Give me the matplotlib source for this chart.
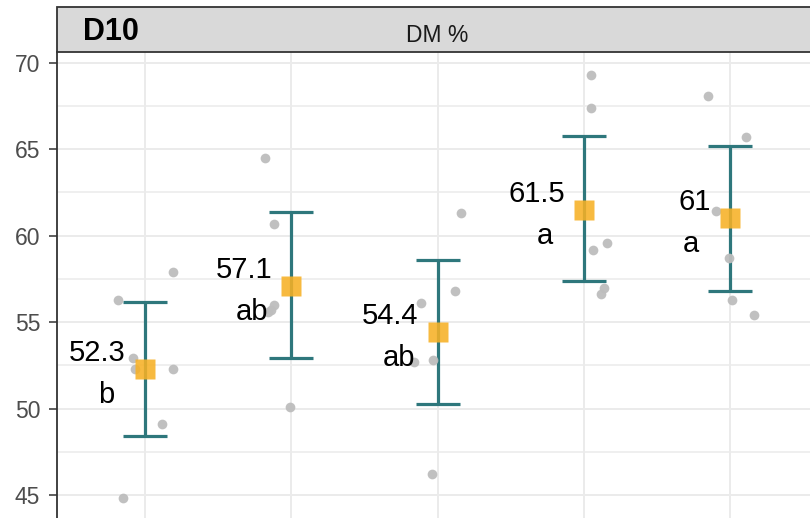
import matplotlib
matplotlib.use("Agg")
import matplotlib.pyplot as plt
from matplotlib.patches import Rectangle
from matplotlib.lines import Line2D
import numpy as np

plt.rcParams['font.family'] = ['Liberation Sans', 'DejaVu Sans']

# ---- data ----
groups = [1, 2, 3, 4, 5]
means = [52.3, 57.1, 54.4, 61.5, 61.0]
mean_labels = ["52.3", "57.1", "54.4", "61.5", "61"]
letters = ["b", "ab", "ab", "a", "a"]
err_low = [48.4, 52.9, 50.25, 57.4, 56.8]
err_high = [56.15, 61.35, 58.6, 65.75, 65.2]

obs_values = [
    [56.3, 57.9, 52.9, 52.3, 52.3, 49.1, 44.8],
    [64.5, 60.7, 56.0, 55.7, 55.6, 50.1],
    [61.3, 56.1, 56.8, 52.8, 52.7, 46.2],
    [69.3, 67.4, 59.55, 59.15, 57.0, 56.6],
    [68.1, 65.7, 61.4, 58.7, 56.3, 55.4],
]
obs_jitter = [
    [-0.185, 0.19, -0.08, -0.07, 0.19, 0.12, -0.15],
    [-0.18, -0.12, -0.12, -0.14, -0.16, -0.01],
    [0.16, -0.11, 0.12, -0.03, -0.16, -0.04],
    [0.05, 0.05, 0.16, 0.06, 0.14, 0.12],
    [-0.15, 0.11, -0.10, -0.01, 0.01, 0.16],
]
yticks = [45, 50, 55, 60, 65, 70]
strip_title = "DM %"
panel_tag = "D10"

# ---- figure ----
W, H = 810, 518
fig = plt.figure(figsize=(W / 100, H / 100), dpi=100)
left_px, right_px, top_px = 57, 818, 52
ax = fig.add_axes([left_px / W, 0, (right_px - left_px) / W, (H - top_px) / H])
ax.set_xlim(0.4, 5.6)
ax.set_ylim(43.67, 70.62)

# grid
for y in yticks:
    ax.axhline(y, color='#EBEBEB', lw=1.4, zorder=0)
for y in np.arange(42.5, 71, 5):
    ax.axhline(y, color='#EBEBEB', lw=1.1, zorder=0)
for x in groups:
    ax.axvline(x, color='#EBEBEB', lw=1.4, zorder=0)

# observations
for g, vals, jit in zip(groups, obs_values, obs_jitter):
    xs = [g + j for j in jit]
    ax.plot(xs, vals, 'o', color='#BDBDBD', ms=7, mec='none', alpha=0.95, zorder=4)

# error bars
teal = '#2E777C'
ax.errorbar(groups, means,
            yerr=[np.array(means) - np.array(err_low), np.array(err_high) - np.array(means)],
            fmt='none', ecolor=teal, elinewidth=2.3, capsize=15.5, capthick=2.3, zorder=3)

# means
ax.plot(groups, means, 's', color='#F7B125', ms=14.5, mec='none', alpha=0.88, zorder=5)

# labels
for g, m, lab, let in zip(groups, means, mean_labels, letters):
    ax.annotate(lab, (g, m), xytext=(-19, 8), textcoords='offset pixels',
                ha='right', va='baseline', fontsize=21, color='black', zorder=6)
    ax.annotate(let, (g, m), xytext=(-39, -34), textcoords='offset pixels',
                ha='center', va='baseline', fontsize=21, color='black', zorder=6)

# axes styling
for s in ['top', 'right', 'bottom']:
    ax.spines[s].set_visible(False)
ax.spines['left'].set_color('#333333')
ax.spines['left'].set_linewidth(1.3)
ax.set_yticks(yticks)
ax.set_yticklabels([str(t) for t in yticks])
ax.tick_params(axis='y', length=6, width=1.1, color='#333333', pad=6,
               labelsize=16.5, labelcolor='#4D4D4D')
ax.set_xticks([])

# strip
strip = Rectangle((left_px / W, (H - top_px) / H), (right_px + 20 - left_px) / W,
                  (top_px - 6.7) / H, transform=fig.transFigure,
                  facecolor='#D9D9D9', edgecolor='#333333', lw=1.3, clip_on=False, zorder=1)
fig.patches.append(strip)
fig.text((left_px + right_px) / 2 / W, (H - 42) / H, strip_title, ha='center', va='baseline',
         fontsize=16.5, color='#1A1A1A')
fig.text(83 / W, (H - 40) / H, panel_tag, ha='left', va='baseline',
         fontsize=22, fontweight='bold', color='black')

fig.savefig('out.png', dpi=100)
